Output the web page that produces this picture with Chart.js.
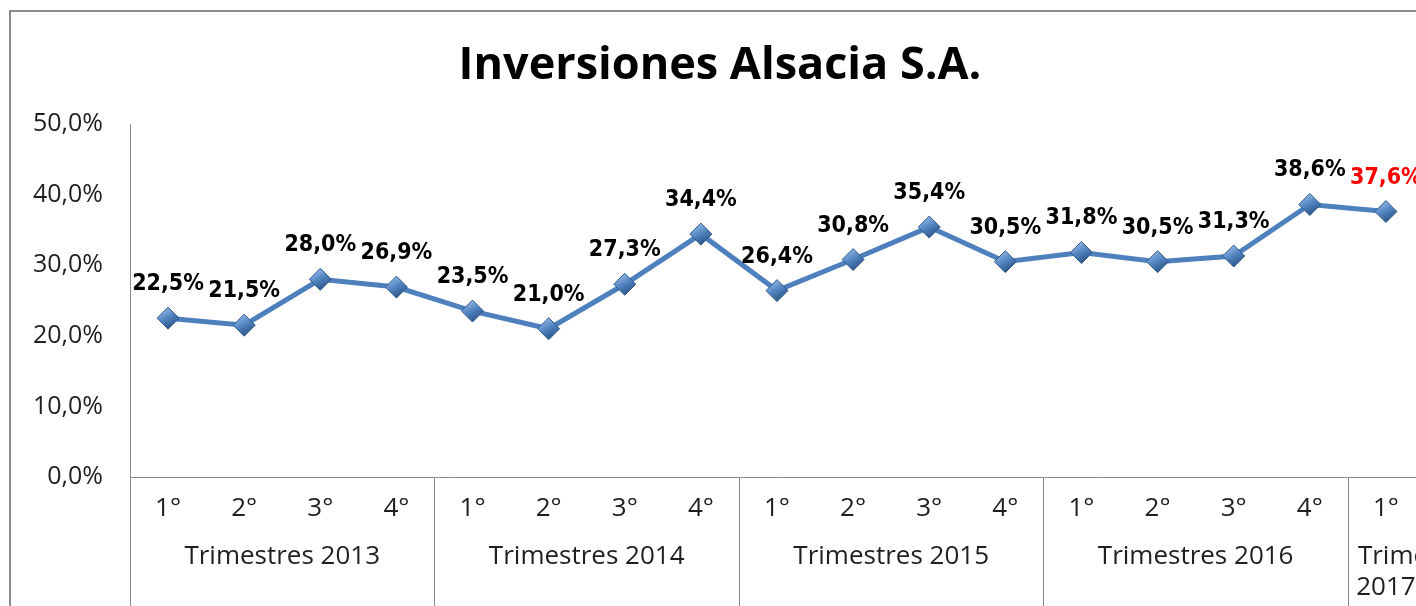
<!DOCTYPE html>
<html>
<head>
<meta charset="utf-8">
<script src="https://cdn.jsdelivr.net/npm/chart.js@4.4.1/dist/chart.umd.min.js"></script>
<style>
html, body { margin: 0; padding: 0; background: #fff; overflow: hidden; }
canvas { position: absolute; left: 0; top: 0; }
#marco { position: absolute; left: 9px; top: 10px; width: 1500px; height: 700px; border: 2px solid #8c8c8c; box-sizing: border-box; pointer-events: none; }
</style>
</head>
<body>
<canvas id="grafico" width="1440" height="620"></canvas>
<div id="marco"></div>
<script>
// trimestres (eje x, primer nivel)
var trimestres = ['1°', '2°', '3°', '4°', '1°', '2°', '3°', '4°', '1°', '2°', '3°', '4°', '1°', '2°', '3°', '4°', '1°'];
// años (eje x, segundo nivel) y cuantos trimestres tiene cada uno
var grupos = ['Trimestres 2013', 'Trimestres 2014', 'Trimestres 2015', 'Trimestres 2016', 'Trimestres 2017'];
var trimestresPorGrupo = [4, 4, 4, 4, 1];
// valores en %
var rentabilidad = [22.5, 21.5, 28.0, 26.9, 23.5, 21.0, 27.3, 34.4, 26.4, 30.8, 35.4, 30.5, 31.8, 30.5, 31.3, 38.6, 37.6];
// marcas del eje y
var ticksY = [0, 10, 20, 30, 40, 50];

function formato(v) {
    return v.toFixed(1).replace('.', ',') + '%';
}

var colorEjes = '#8c8c8c';
var colorTexto = '#1f1f1f';

// etiquetas de datos sobre cada punto
var etiquetasPlugin = {
    id: 'etiquetas',
    afterDatasetsDraw: function (chart) {
        var ctx = chart.ctx;
        var meta = chart.getDatasetMeta(0);
        ctx.save();
        ctx.font = 'bold 23px "DejaVu Sans Condensed", "DejaVu Sans", sans-serif';
        ctx.textAlign = 'center';
        ctx.textBaseline = 'middle';
        meta.data.forEach(function (p, i) {
            ctx.fillStyle = i === rentabilidad.length - 1 ? '#ff0000' : '#000000';
            ctx.fillText(formato(rentabilidad[i]), p.x, p.y - 34);
        });
        ctx.restore();
    }
};

// segundo nivel del eje x con separadores
var gruposPlugin = {
    id: 'grupos',
    afterDraw: function (chart) {
        var ctx = chart.ctx;
        var x = chart.scales.x;
        var area = chart.chartArea;
        var paso = x.getPixelForValue(1) - x.getPixelForValue(0);
        var inicio = 0;
        ctx.save();
        ctx.strokeStyle = colorEjes;
        ctx.lineWidth = 1;
        ctx.fillStyle = colorTexto;
        ctx.font = '26px "Open Sans", sans-serif';
        ctx.textBaseline = 'middle';
        grupos.forEach(function (nombre, g) {
            var n = trimestresPorGrupo[g];
            var izq = x.getPixelForValue(inicio) - paso / 2;
            var der = izq + n * paso;
            var lx = Math.round(izq) + 0.5;
            ctx.beginPath();
            ctx.moveTo(lx, area.bottom);
            ctx.lineTo(lx, chart.height);
            ctx.stroke();
            var ancho = der - izq - 8;
            var lineas = ctx.measureText(nombre).width > ancho ? nombre.split(' ') : [nombre];
            lineas.forEach(function (l, k) {
                var y = area.bottom + 80 + k * 31;
                if (ctx.measureText(l).width > ancho) {
                    ctx.textAlign = 'left';
                    ctx.fillText(l, izq + 10, y);
                } else {
                    ctx.textAlign = 'center';
                    ctx.fillText(l, (izq + der) / 2, y);
                }
            });
            inicio += n;
        });
        ctx.restore();
    }
};

var ctxGrafico = document.getElementById('grafico').getContext('2d');
var grafico = new Chart(ctxGrafico, {
    type: 'line',
    data: {
        labels: trimestres,
        datasets: [{
            data: rentabilidad,
            borderColor: '#4d80bd',
            borderWidth: 5,
            tension: 0,
            pointStyle: 'rectRot',
            pointRadius: 11,
            pointBorderWidth: 1,
            pointBorderColor: '#2f5b8f',
            pointBackgroundColor: function (c) {
                var s = c.chart.scales;
                if (!s || !s.y || !c.parsed) return '#4a7ebb';
                var px = s.x.getPixelForValue(c.dataIndex);
                var py = s.y.getPixelForValue(c.parsed.y);
                if (!isFinite(px) || !isFinite(py)) return '#4a7ebb';
                var g = c.chart.ctx.createLinearGradient(px - 6, py - 11, px + 6, py + 11);
                g.addColorStop(0, '#9cc0ec');
                g.addColorStop(0.5, '#4f81bd');
                g.addColorStop(1, '#254a78');
                return g;
            }
        }]
    },
    options: {
        responsive: false,
        animation: false,
        layout: { padding: { left: 16, right: 16, top: 0, bottom: 0 } },
        plugins: {
            legend: { display: false },
            tooltip: { enabled: false },
            title: {
                display: true,
                text: 'Inversiones Alsacia S.A.',
                color: '#000000',
                font: { family: '"Open Sans", sans-serif', size: 45, weight: 'bold', lineHeight: 1.2 },
                padding: { top: 39, bottom: 31 }
            }
        },
        scales: {
            x: {
                offset: true,
                grid: { display: false, drawTicks: false, offset: true },
                border: { display: true, color: colorEjes, width: 1 },
                ticks: {
                    color: colorTexto,
                    font: { family: '"Open Sans", sans-serif', size: 26 },
                    padding: 16,
                    maxRotation: 0,
                    autoSkip: false
                },
                afterFit: function (scale) { scale.height = 620 - 477; }
            },
            y: {
                min: 0,
                max: 50,
                grid: { display: false, drawTicks: false },
                border: { display: true, color: colorEjes, width: 1 },
                afterBuildTicks: function (scale) {
                    scale.ticks = ticksY.map(function (v) { return { value: v }; });
                },
                ticks: {
                    color: colorTexto,
                    font: { family: '"Open Sans", sans-serif', size: 25 },
                    padding: 27,
                    callback: function (v) { return formato(v); }
                },
                afterFit: function (scale) { scale.width = 114; }
            }
        }
    },
    plugins: [etiquetasPlugin, gruposPlugin]
});
</script>
</body>
</html>
